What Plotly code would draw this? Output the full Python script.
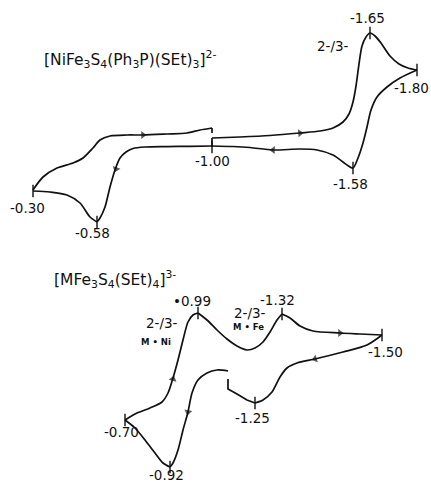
import plotly.graph_objects as go

# ---- data: traced curve points (drawing units: x right, y down) ----
# Top voltammogram [NiFe3S4(Ph3P)(SEt)3]2-
top_seg_fwd_x = [212, 240, 270, 300, 320, 333, 343, 349, 353, 356, 359, 362, 366, 370, 375, 381, 390, 399, 408, 417]
top_seg_fwd_y = [138, 137, 135.5, 133, 131, 128, 122, 114, 102, 86, 64, 46, 37, 33, 36, 43, 56, 64, 68, 70]
top_seg_ret_x = [417, 400, 387, 377, 371, 367, 363, 358, 353, 347, 333, 317, 300, 273, 250, 233, 212]
top_seg_ret_y = [70, 78, 87, 97, 110, 127, 143, 158, 168, 165, 155, 150, 149, 150, 147.5, 146.5, 146]
top_seg_left_x = [212, 190, 167, 145, 133, 126, 120, 115, 110, 105, 100, 97]
top_seg_left_y = [146, 146.3, 146.6, 147, 148.5, 152, 158, 170, 187, 207, 218, 222]
top_seg_rise_x = [97, 90, 80, 67, 50, 33]
top_seg_rise_y = [222, 217, 203, 195, 192, 191]
top_seg_back_x = [33, 43, 57, 73, 83, 93, 100, 110, 127, 143, 167, 187, 200, 212]
top_seg_back_y = [190, 177, 168, 163, 158, 148, 140, 136, 135, 135, 134, 133, 130, 128]
top_gap_x = [[212, 212], [212, 212]]
top_gap_y = [[128, 133], [138, 147]]
top_peaks_x = [370, 353, 97, 212, 417, 33]
top_peaks_y = [33, 168, 222, 147, 70, 191]
top_arrow_x = [290, 300, 283, 273, 119, 116, 133, 143]
top_arrow_y = [134, 133, 150.3, 150, 161, 169, 135, 135]

# Bottom voltammogram [MFe3S4(SEt)4]3-
bot_seg_a_x = [125, 137, 150, 162, 168, 173, 178, 183, 188, 193, 198]
bot_seg_a_y = [420, 413, 408, 402, 393, 378, 360, 340, 322, 315, 313]
bot_seg_b_x = [198, 207, 217, 227, 237, 247, 255, 263, 270, 277, 282]
bot_seg_b_y = [313, 320, 330, 339, 346, 350, 348, 342, 332, 320, 314]
bot_seg_c_x = [282, 290, 300, 313, 340, 360, 382]
bot_seg_c_y = [314, 318, 326, 331, 333, 334, 335]
bot_seg_d_x = [382, 367, 343, 315, 297, 287, 280, 272, 263, 255]
bot_seg_d_y = [335, 345, 352, 359, 363, 368, 377, 392, 400, 403]
bot_seg_e_x = [255, 247, 237, 228, 228]
bot_seg_e_y = [403, 400, 394, 389, 379]
bot_seg_f_x = [228, 217, 207, 198, 192, 188, 183, 178, 173, 170]
bot_seg_f_y = [371, 370, 373, 380, 393, 412, 430, 450, 463, 467]
bot_seg_g_x = [170, 163, 155, 145, 135, 125]
bot_seg_g_y = [467, 463, 453, 440, 428, 420]
bot_peaks_x = [198, 282, 255, 170, 382, 125]
bot_peaks_y = [313, 314, 403, 467, 335, 420]
bot_arrow_x = [170, 173, 330, 340, 325, 315, 190, 188]
bot_arrow_y = [390, 379, 333, 333, 356, 359, 402, 412]

labels = [
    ("[NiFe<sub>3</sub>S<sub>4</sub>(Ph<sub>3</sub>P)(SEt)<sub>3</sub>]<sup>2-</sup>", 42, 59, "left", 15.5),
    ("-1.65", 367, 18, "center", 13.5),
    ("2-/3-", 333, 46, "center", 13.5),
    ("-1.80", 411, 88, "center", 13.5),
    ("-1.00", 212, 161, "center", 13.5),
    ("-1.58", 350, 184, "center", 13.5),
    ("-0.30", 27, 208, "center", 13.5),
    ("-0.58", 92, 233, "center", 13.5),
    ("[MFe<sub>3</sub>S<sub>4</sub>(SEt)<sub>4</sub>]<sup>3-</sup>", 52, 279, "left", 15.5),
    ("•0.99", 192, 301, "center", 13.5),
    ("-1.32", 277, 300, "center", 13.5),
    ("2-/3-", 162, 323, "center", 13.5),
    ("<b>M • Ni</b>", 156, 342, "center", 8.5),
    ("2-/3-", 250, 313, "center", 13.5),
    ("<b>M • Fe</b>", 248, 327, "center", 8.5),
    ("-1.50", 385, 352, "center", 13.5),
    ("-1.25", 252, 418, "center", 13.5),
    ("-0.70", 121, 432, "center", 13.5),
    ("-0.92", 166, 475, "center", 13.5),
]

INK = "#111111"
fig = go.Figure()

def add_curve(xs, ys, shape="spline"):
    fig.add_trace(go.Scatter(x=xs, y=ys, mode="lines",
                             line=dict(color=INK, width=1.7, shape=shape, smoothing=0.8),
                             hoverinfo="skip", showlegend=False))

for xs, ys in [(top_seg_fwd_x, top_seg_fwd_y), (top_seg_ret_x, top_seg_ret_y),
               (top_seg_left_x, top_seg_left_y), (top_seg_rise_x, top_seg_rise_y),
               (top_seg_back_x, top_seg_back_y),
               (bot_seg_a_x, bot_seg_a_y), (bot_seg_b_x, bot_seg_b_y),
               (bot_seg_c_x, bot_seg_c_y), (bot_seg_d_x, bot_seg_d_y),
               (bot_seg_f_x, bot_seg_f_y), (bot_seg_g_x, bot_seg_g_y)]:
    add_curve(xs, ys)
add_curve(bot_seg_e_x, bot_seg_e_y, shape="linear")
for xs, ys in zip(top_gap_x, top_gap_y):
    add_curve(xs, ys, shape="linear")

# peak / vertex tick marks
for px, py in [(top_peaks_x, top_peaks_y), (bot_peaks_x, bot_peaks_y)]:
    fig.add_trace(go.Scatter(x=px, y=py, mode="markers",
                             marker=dict(symbol="line-ns", size=9,
                                         line=dict(color=INK, width=1.4)),
                             hoverinfo="skip", showlegend=False))

# direction arrows
for ax, ay in [(top_arrow_x, top_arrow_y), (bot_arrow_x, bot_arrow_y)]:
    fig.add_trace(go.Scatter(x=ax, y=ay, mode="markers",
                             marker=dict(symbol="triangle-up", angleref="previous",
                                         size=[0, 7] * (len(ax) // 2), color=INK,
                                         line=dict(width=0)),
                             hoverinfo="skip", showlegend=False))

for text, x, y, anchor, size in labels:
    fig.add_annotation(x=x, y=y, text=text, showarrow=False, xanchor=anchor,
                       yanchor="middle",
                       font=dict(family="DejaVu Sans", size=size, color=INK))

fig.update_layout(
    width=431, height=484, margin=dict(l=0, r=0, t=0, b=0),
    paper_bgcolor="white", plot_bgcolor="white",
    xaxis=dict(range=[0, 431], visible=False, fixedrange=True),
    yaxis=dict(range=[484, 0], visible=False, fixedrange=True),
)
fig.write_html("out.html")
